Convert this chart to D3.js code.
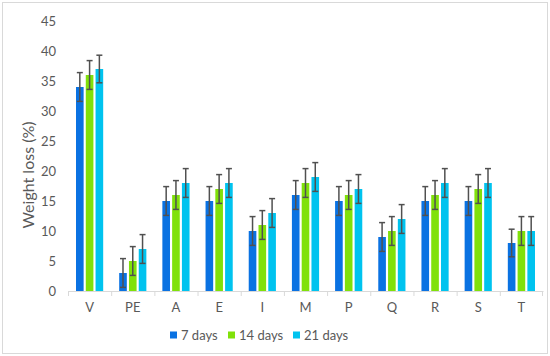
<!DOCTYPE html>
<html>
<head>
<meta charset="utf-8">
<script src="https://cdn.jsdelivr.net/npm/d3@7"></script>
<style>
  body { margin: 0; background: #fff; }
  text { font-family: Lato, "Open Sans", sans-serif; }
</style>
</head>
<body>
<div id="chart"></div>
<script>
// chart data
const categories = ["V", "PE", "A", "E", "I", "M", "P", "Q", "R", "S", "T"];
const seriesNames = ["7 days", "14 days", "21 days"];
const days7 = [34, 3, 15, 15, 10, 16, 15, 9, 15, 15, 8];
const days14 = [36, 5, 16, 17, 11, 18, 16, 10, 16, 17, 10];
const days21 = [37, 7, 18, 18, 13, 19, 17, 12, 18, 18, 10];
const err7 = [2.4, 2.4, 2.4, 2.4, 2.4, 2.4, 2.4, 2.4, 2.4, 2.4, 2.3];
const err14 = [2.4, 2.4, 2.4, 2.4, 2.4, 2.4, 2.4, 2.4, 2.4, 2.4, 2.4];
const err21 = [2.3, 2.4, 2.4, 2.4, 2.4, 2.4, 2.4, 2.4, 2.4, 2.4, 2.4];
const yTicks = [0, 5, 10, 15, 20, 25, 30, 35, 40, 45];

const colors = ["#0a72e2", "#80e10a", "#00c3ef"];
const values = [days7, days14, days21];
const errors = [err7, err14, err21];

const W = 550, H = 356;
const margin = { top: 21, right: 7, bottom: 65, left: 68 };
const width = W - margin.left - margin.right;
const height = H - margin.top - margin.bottom;

const root = d3.select("#chart")
    .append("svg")
    .attr("width", W)
    .attr("height", H);

// outer frame
root.append("rect")
    .attr("x", 2.5).attr("y", 2.5)
    .attr("width", W - 5).attr("height", H - 5)
    .attr("fill", "#fff")
    .attr("stroke", "#d9d9d9");

const svg = root.append("g")
    .attr("transform", `translate(${margin.left},${margin.top})`);

const x = d3.scaleBand()
    .domain(categories)
    .range([0, width]);

const x1 = d3.scaleBand()
    .domain(seriesNames)
    .range([8, x.bandwidth() - 8])
    .paddingInner(0.22);

const y = d3.scaleLinear()
    .domain([0, 45])
    .range([height, 0]);

// y axis (labels only)
const yAxis = svg.append("g")
    .call(d3.axisLeft(y).tickValues(yTicks).tickSize(0).tickPadding(12));
yAxis.select(".domain").remove();
yAxis.selectAll("text")
    .attr("fill", "#595959")
    .style("font-size", "13px");

// bars
const rows = categories.map((c, i) => ({ cat: c, i }));
const groups = svg.selectAll(".grp")
    .data(rows)
    .enter()
    .append("g")
    .attr("class", "grp")
    .attr("transform", d => `translate(${x(d.cat)},0)`);

seriesNames.forEach((s, k) => {
    groups.append("rect")
        .attr("x", x1(s))
        .attr("y", d => y(values[k][d.i]))
        .attr("width", x1.bandwidth())
        .attr("height", d => height - y(values[k][d.i]))
        .attr("fill", colors[k]);
});

// error bars
seriesNames.forEach((s, k) => {
    const cx = x1(s) + x1.bandwidth() / 2;
    const eb = groups.append("g")
        .attr("stroke", "#505050")
        .attr("stroke-width", 1.5);
    eb.append("line")
        .attr("x1", cx).attr("x2", cx)
        .attr("y1", d => y(values[k][d.i] + errors[k][d.i]))
        .attr("y2", d => y(values[k][d.i] - errors[k][d.i]));
    eb.append("line")
        .attr("x1", cx - 3).attr("x2", cx + 3)
        .attr("y1", d => y(values[k][d.i] + errors[k][d.i]))
        .attr("y2", d => y(values[k][d.i] + errors[k][d.i]));
    eb.append("line")
        .attr("x1", cx - 3).attr("x2", cx + 3)
        .attr("y1", d => y(values[k][d.i] - errors[k][d.i]))
        .attr("y2", d => y(values[k][d.i] - errors[k][d.i]));
});

// x axis
const xAxis = svg.append("g")
    .attr("transform", `translate(0,${height})`)
    .call(d3.axisBottom(x).tickSize(0).tickPadding(12));
xAxis.select(".domain").attr("stroke", "#d9d9d9");
xAxis.selectAll("text")
    .attr("fill", "#595959")
    .style("font-size", "13px");
// ticks between categories
svg.append("g")
    .selectAll("line")
    .data(categories.concat(["end"]))
    .enter()
    .append("line")
    .attr("x1", (d, i) => i < categories.length ? x(d) + 0.5 : width - 0.5)
    .attr("x2", (d, i) => i < categories.length ? x(d) + 0.5 : width - 0.5)
    .attr("y1", height)
    .attr("y2", height + 5)
    .attr("stroke", "#d9d9d9");

// y axis title
root.append("text")
    .attr("transform", "translate(34,175) rotate(-90)")
    .attr("text-anchor", "middle")
    .attr("fill", "#595959")
    .style("font-size", "16px")
    .text("Weight loss (%)");

// legend
const legendX = [170, 228, 293];
const legend = root.append("g");
seriesNames.forEach((s, k) => {
    legend.append("rect")
        .attr("x", legendX[k]).attr("y", 331.5)
        .attr("width", 7).attr("height", 7)
        .attr("fill", colors[k]);
    legend.append("text")
        .attr("x", legendX[k] + 11).attr("y", 340)
        .attr("fill", "#595959")
        .style("font-size", "13px")
        .text(s);
});
</script>
</body>
</html>
